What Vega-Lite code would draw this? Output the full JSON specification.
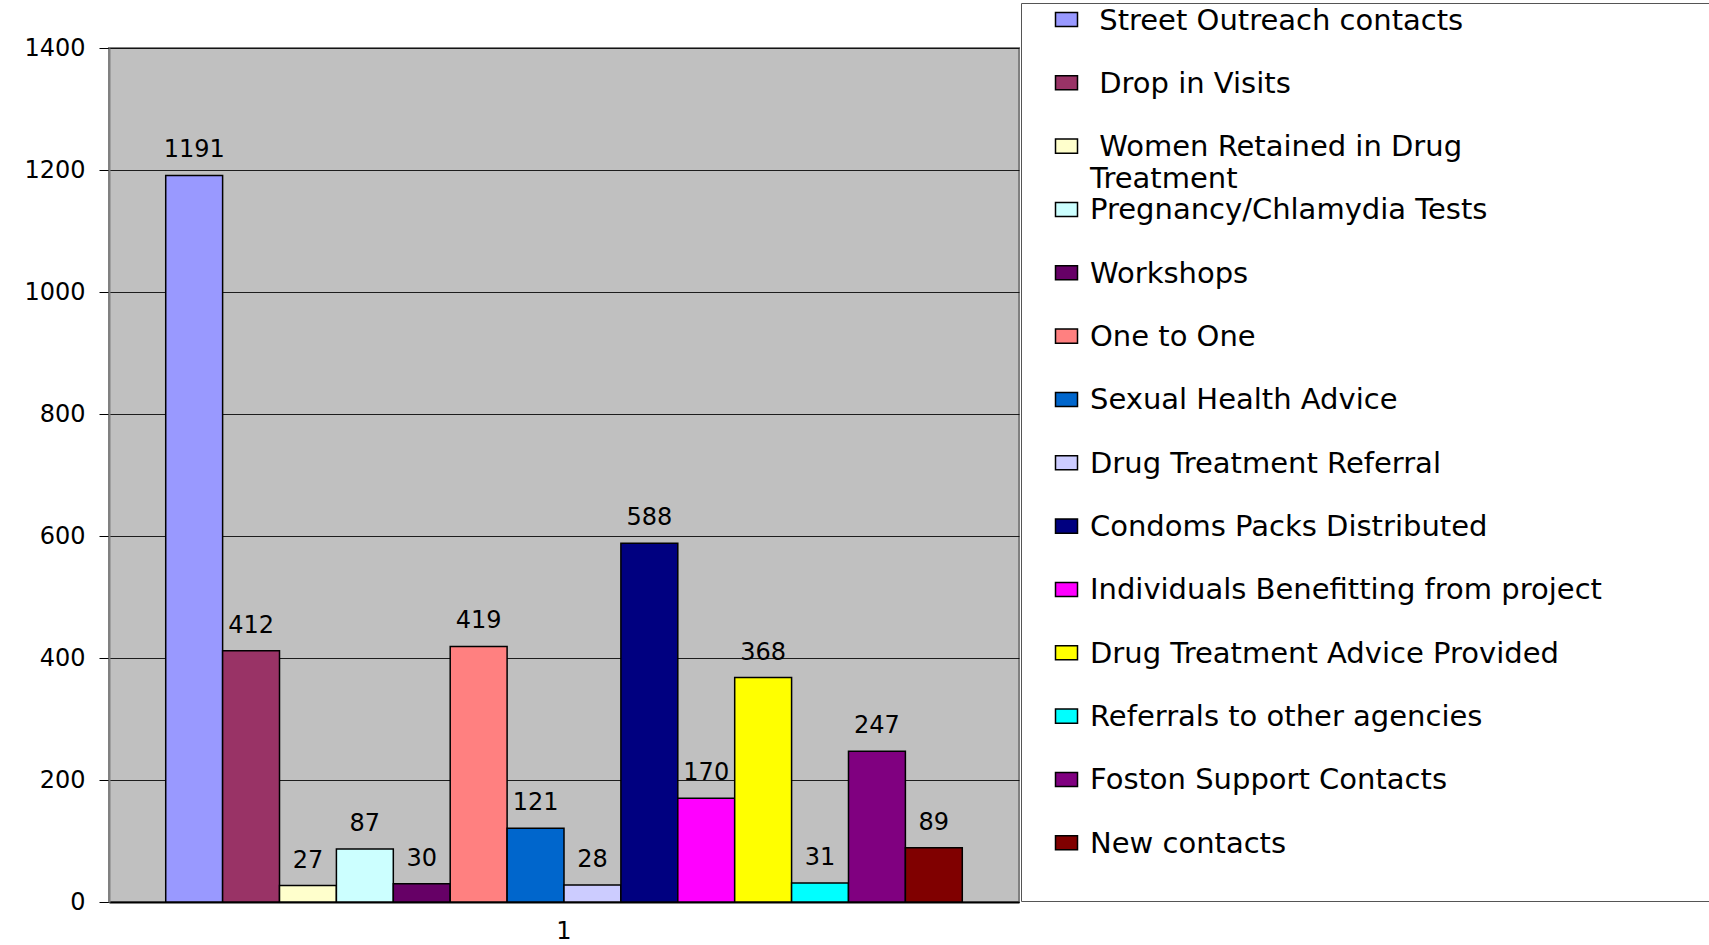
{
  "$schema": "https://vega.github.io/schema/vega-lite/v6.json",
  "width": 910,
  "height": 854,
  "autosize": {"type": "none"},
  "padding": {"left": 109, "top": 48, "right": 690, "bottom": 43},
  "background": "white",
  "config": {
    "view": {"fill": "#C0C0C0", "stroke": "#808080", "strokeWidth": 2},
    "font": "DejaVu Sans"
  },
  "data": {
    "values": [
      {"group": "1", "category": "Street Outreach contacts", "value": 1191},
      {"group": "1", "category": "Drop in Visits", "value": 412},
      {"group": "1", "category": "Women Retained in Drug Treatment", "value": 27},
      {"group": "1", "category": "Pregnancy/Chlamydia Tests", "value": 87},
      {"group": "1", "category": "Workshops", "value": 30},
      {"group": "1", "category": "One to One", "value": 419},
      {"group": "1", "category": "Sexual Health Advice", "value": 121},
      {"group": "1", "category": "Drug Treatment Referral", "value": 28},
      {"group": "1", "category": "Condoms Packs Distributed", "value": 588},
      {"group": "1", "category": "Individuals Benefitting from project", "value": 170},
      {"group": "1", "category": "Drug Treatment Advice Provided", "value": 368},
      {"group": "1", "category": "Referrals to other agencies", "value": 31},
      {"group": "1", "category": "Foston Support Contacts", "value": 247},
      {"group": "1", "category": "New contacts", "value": 89}
    ]
  },
  "encoding": {
    "x": {
      "field": "group",
      "type": "nominal",
      "scale": {"paddingInner": 0, "paddingOuter": 0.0712},
      "axis": {
        "title": null,
        "labelAngle": 0,
        "ticks": false,
        "tickSize": 0,
        "labelPadding": 17,
        "labelFontSize": 24,
        "labelFont": "DejaVu Sans",
        "labelColor": "black",
        "domainColor": "#000000",
        "domainWidth": 2,
        "grid": false
      }
    },
    "xOffset": {
      "field": "category",
      "type": "nominal",
      "sort": ["Street Outreach contacts", "Drop in Visits", "Women Retained in Drug Treatment", "Pregnancy/Chlamydia Tests", "Workshops", "One to One", "Sexual Health Advice", "Drug Treatment Referral", "Condoms Packs Distributed", "Individuals Benefitting from project", "Drug Treatment Advice Provided", "Referrals to other agencies", "Foston Support Contacts", "New contacts"],
      "scale": {"paddingInner": 0, "paddingOuter": 0}
    },
    "y": {
      "field": "value",
      "type": "quantitative",
      "scale": {"domain": [0, 1400], "nice": false},
      "axis": {
        "title": null,
        "values": [0, 200, 400, 600, 800, 1000, 1200, 1400],
        "format": "d",
        "tickSize": 10,
        "tickColor": "#000000",
        "labelPadding": 14,
        "labelFontSize": 24,
        "labelFont": "DejaVu Sans",
        "labelColor": "black",
        "domainColor": "#808080",
        "domainWidth": 2,
        "gridColor": "#000000",
        "gridWidth": 1,
        "gridOpacity": 0.85
      }
    }
  },
  "layer": [
    {
      "mark": {"type": "bar", "stroke": "black", "strokeWidth": 1.5},
      "encoding": {
        "color": {
          "field": "category",
          "type": "nominal",
          "scale": {
            "domain": ["Street Outreach contacts", "Drop in Visits", "Women Retained in Drug Treatment", "Pregnancy/Chlamydia Tests", "Workshops", "One to One", "Sexual Health Advice", "Drug Treatment Referral", "Condoms Packs Distributed", "Individuals Benefitting from project", "Drug Treatment Advice Provided", "Referrals to other agencies", "Foston Support Contacts", "New contacts"],
            "range": ["#9999FF", "#993366", "#FFFFCC", "#CCFFFF", "#660066", "#FF8080", "#0066CC", "#CCCCFF", "#000080", "#FF00FF", "#FFFF00", "#00FFFF", "#800080", "#800000"]
          },
          "legend": {
            "title": null,
            "orient": "none",
            "legendX": 912,
            "legendY": -45,
            "padding": 2,
            "strokeColor": "#555555",
            "fillColor": "white",
            "rowPadding": 0.33,
            "symbolType": "M-1,-0.64H1V0.64H-1Z M62,0",
            "symbolSize": 484,
            "symbolStrokeColor": "black",
            "symbolStrokeWidth": 1.5,
            "symbolOffset": 29,
            "labelOffset": 9,
            "labelFontSize": 29,
            "labelFont": "DejaVu Sans",
            "labelColor": "black",
            "labelLimit": 2000,
            "labelBaseline": "alphabetic",
            "labelExpr": "datum.label == 'Women Retained in Drug Treatment' ? ['\u200b\u00a0Women Retained in Drug', 'Treatment'] : (datum.label == 'Street Outreach contacts' || datum.label == 'Drop in Visits') ? ['\u200b\u00a0' + datum.label, ''] : [datum.label, '']",
            "encode": {"labels": {"update": {"dy": {"value": 10}, "lineHeight": {"signal": "datum.value === 'New contacts' ? 40 : 32"}}}}
          }
        }
      }
    },
    {
      "mark": {"type": "text", "baseline": "alphabetic", "dy": -18, "fontSize": 24, "font": "DejaVu Sans", "color": "black"},
      "encoding": {
        "text": {"field": "value", "type": "quantitative"}
      }
    }
  ]
}
